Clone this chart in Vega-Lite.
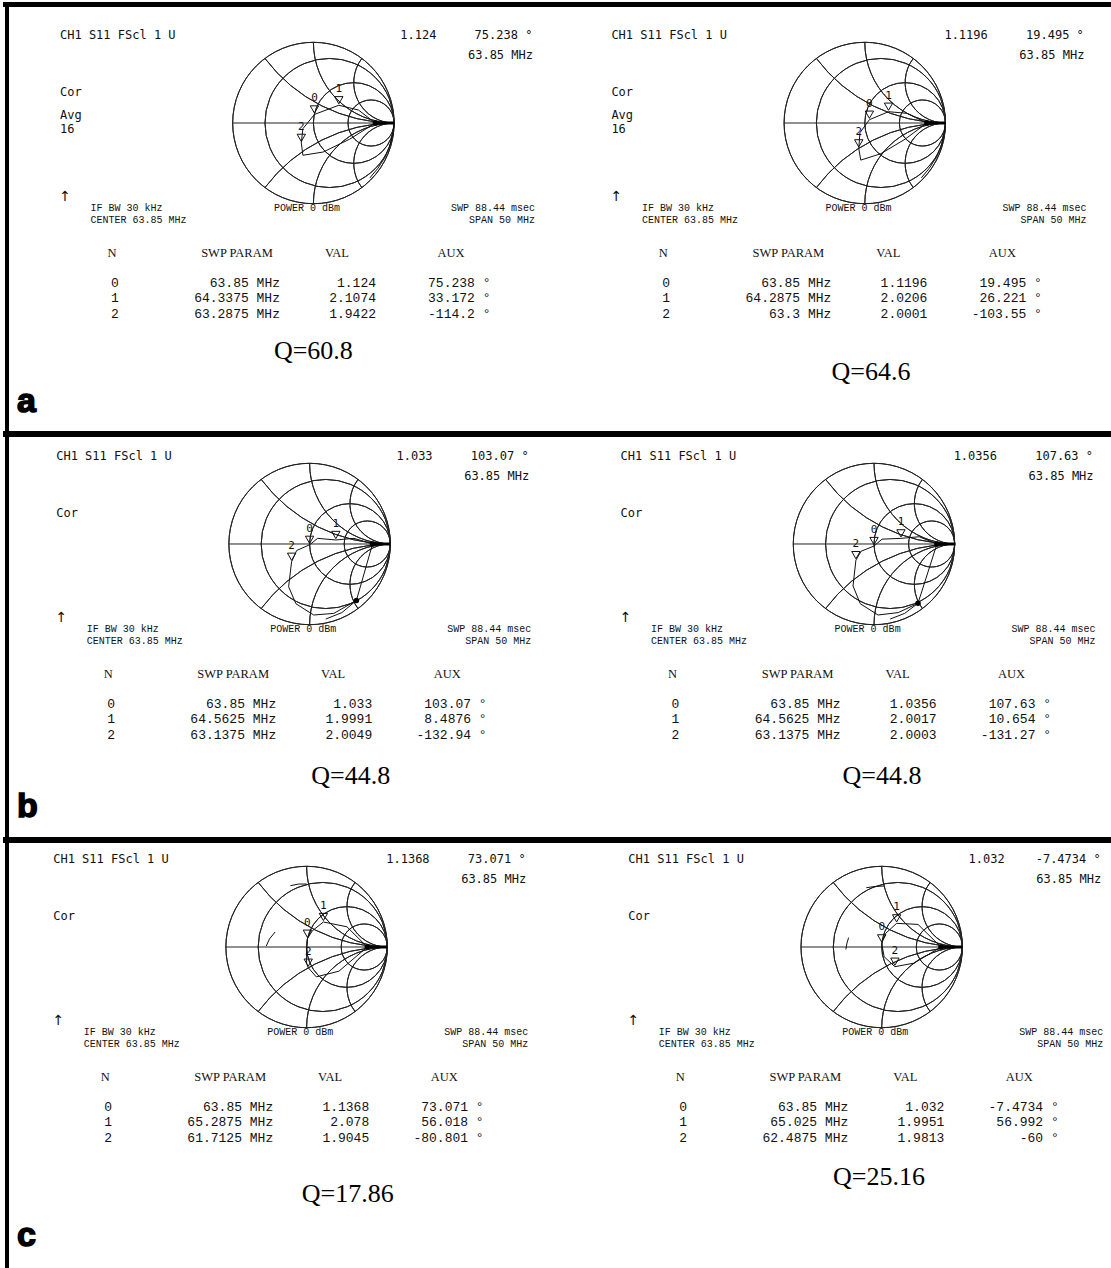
{
"$schema": "https://vega.github.io/schema/vega-lite/v6.json",
"background": "white",
"padding": 0,
"spacing": 0,
"bounds": "flush",
"align": "each",
"columns": 2,
"config": {"view": {"stroke": null}, "axis": {"disable": true}, "legend": {"disable": true}, "concat": {"spacing": 0}},
"datasets": {
"grid": [
{"cx":0,"cy":0,"rad":1,"t0":0,"t1":360},
{"cx":0.2,"cy":0,"rad":0.8,"t0":0,"t1":360},
{"cx":0.5,"cy":0,"rad":0.5,"t0":0,"t1":360},
{"cx":0.7143,"cy":0,"rad":0.2857,"t0":0,"t1":360},
{"cx":1,"cy":2,"rad":2,"t0":180,"t1":233.13},
{"cx":1,"cy":1,"rad":1,"t0":180,"t1":270},
{"cx":1,"cy":0.5,"rad":0.5,"t0":180,"t1":306.87},
{"cx":1,"cy":-2,"rad":2,"t0":306.87,"t1":360},
{"cx":1,"cy":-1,"rad":1,"t0":270,"t1":360},
{"cx":1,"cy":-0.5,"rad":0.5,"t0":233.13,"t1":360}
],
"scr": [
{"s":"*","g":"L","gx":-3.14,"gy":1.043,"t":"CH1 S11  FScl  1 U"},
{"s":"*","g":"L","gx":-3.14,"gy":0.337,"t":"Cor"},
{"s":"*","g":"A","gx":-3.15,"gy":-0.964,"t":"↑"},
{"s":"aL","g":"L","gx":-3.14,"gy":0.055,"t":"Avg"},
{"s":"aL","g":"L","gx":-3.14,"gy":-0.13,"t":"16"},
{"s":"aR","g":"L","gx":-3.14,"gy":0.055,"t":"Avg"},
{"s":"aR","g":"L","gx":-3.14,"gy":-0.13,"t":"16"},
{"s":"*","g":"R","gx":2.721,"gy":0.796,"t":"63.85 MHz"},
{"s":"aL","g":"R","gx":1.524,"gy":1.043,"t":"1.124"},
{"s":"aL","g":"R","gx":2.714,"gy":1.043,"t":"75.238 °"},
{"s":"aR","g":"R","gx":1.524,"gy":1.043,"t":"1.1196"},
{"s":"aR","g":"R","gx":2.714,"gy":1.043,"t":"19.495 °"},
{"s":"bL","g":"R","gx":1.524,"gy":1.043,"t":"1.033"},
{"s":"bL","g":"R","gx":2.714,"gy":1.043,"t":"103.07 °"},
{"s":"bR","g":"R","gx":1.524,"gy":1.043,"t":"1.0356"},
{"s":"bR","g":"R","gx":2.714,"gy":1.043,"t":"107.63 °"},
{"s":"cL","g":"R","gx":1.524,"gy":1.043,"t":"1.1368"},
{"s":"cL","g":"R","gx":2.714,"gy":1.043,"t":"73.071 °"},
{"s":"cR","g":"R","gx":1.524,"gy":1.043,"t":"1.032"},
{"s":"cR","g":"R","gx":2.714,"gy":1.043,"t":"-7.4734 °"},
{"s":"*","g":"BL","gx":-2.762,"gy":-1.09,"t":"IF BW 30 kHz"},
{"s":"*","g":"BL","gx":-2.762,"gy":-1.239,"t":"CENTER  63.85 MHz"},
{"s":"*","g":"BL","gx":-0.488,"gy":-1.09,"t":"POWER  0 dBm"},
{"s":"*","g":"BR","gx":2.746,"gy":-1.09,"t":"SWP  88.44 msec"},
{"s":"*","g":"BR","gx":2.746,"gy":-1.239,"t":"SPAN  50 MHz"}
],
"hdr": [
{"gx":-2.496,"gy":-1.658,"t":"N"},
{"gx":-0.947,"gy":-1.658,"t":"SWP PARAM"},
{"gx":0.292,"gy":-1.658,"t":"VAL"},
{"gx":1.705,"gy":-1.658,"t":"AUX"}
],
"tab": [
{"s":"aL","n":0,"gy":-2.03,"f":"63.85 MHz","v":"1.124","a":"75.238 °"},
{"s":"aL","n":1,"gy":-2.216,"f":"64.3375 MHz","v":"2.1074","a":"33.172 °"},
{"s":"aL","n":2,"gy":-2.414,"f":"63.2875 MHz","v":"1.9422","a":"-114.2 °"},
{"s":"aR","n":0,"gy":-2.03,"f":"63.85 MHz","v":"1.1196","a":"19.495 °"},
{"s":"aR","n":1,"gy":-2.216,"f":"64.2875 MHz","v":"2.0206","a":"26.221 °"},
{"s":"aR","n":2,"gy":-2.414,"f":"63.3 MHz","v":"2.0001","a":"-103.55 °"},
{"s":"bL","n":0,"gy":-2.03,"f":"63.85 MHz","v":"1.033","a":"103.07 °"},
{"s":"bL","n":1,"gy":-2.216,"f":"64.5625 MHz","v":"1.9991","a":"8.4876 °"},
{"s":"bL","n":2,"gy":-2.414,"f":"63.1375 MHz","v":"2.0049","a":"-132.94 °"},
{"s":"bR","n":0,"gy":-2.03,"f":"63.85 MHz","v":"1.0356","a":"107.63 °"},
{"s":"bR","n":1,"gy":-2.216,"f":"64.5625 MHz","v":"2.0017","a":"10.654 °"},
{"s":"bR","n":2,"gy":-2.414,"f":"63.1375 MHz","v":"2.0003","a":"-131.27 °"},
{"s":"cL","n":0,"gy":-2.03,"f":"63.85 MHz","v":"1.1368","a":"73.071 °"},
{"s":"cL","n":1,"gy":-2.216,"f":"65.2875 MHz","v":"2.078","a":"56.018 °"},
{"s":"cL","n":2,"gy":-2.414,"f":"61.7125 MHz","v":"1.9045","a":"-80.801 °"},
{"s":"cR","n":0,"gy":-2.03,"f":"63.85 MHz","v":"1.032","a":"-7.4734 °"},
{"s":"cR","n":1,"gy":-2.216,"f":"65.025 MHz","v":"1.9951","a":"56.992 °"},
{"s":"cR","n":2,"gy":-2.414,"f":"62.4875 MHz","v":"1.9813","a":"-60 °"}
],
"trace": [
{"s":"aL","g":"t","i":0,"gx":0.70,"gy":-0.68},{"s":"aL","g":"t","i":1,"gx":0.80,"gy":-0.56},{"s":"aL","g":"t","i":2,"gx":0.89,"gy":-0.42},{"s":"aL","g":"t","i":3,"gx":0.95,"gy":-0.27},{"s":"aL","g":"t","i":4,"gx":0.985,"gy":-0.12},{"s":"aL","g":"t","i":5,"gx":1.0,"gy":0},
{"s":"aL","g":"l","i":0,"gx":0.767,"gy":0},{"s":"aL","g":"l","i":1,"gx":0.56,"gy":0.16},{"s":"aL","g":"l","i":2,"gx":0.315,"gy":0.22},{"s":"aL","g":"l","i":3,"gx":0.013,"gy":0.106},{"s":"aL","g":"l","i":4,"gx":-0.13,"gy":-0.07},{"s":"aL","g":"l","i":5,"gx":-0.15,"gy":-0.246},{"s":"aL","g":"l","i":6,"gx":-0.13,"gy":-0.40},{"s":"aL","g":"l","i":7,"gx":0.12,"gy":-0.36},{"s":"aL","g":"l","i":8,"gx":0.45,"gy":-0.2},{"s":"aL","g":"l","i":9,"gx":0.767,"gy":0},
{"s":"aR","g":"t","i":0,"gx":0.70,"gy":-0.68},{"s":"aR","g":"t","i":1,"gx":0.80,"gy":-0.56},{"s":"aR","g":"t","i":2,"gx":0.89,"gy":-0.42},{"s":"aR","g":"t","i":3,"gx":0.95,"gy":-0.27},{"s":"aR","g":"t","i":4,"gx":0.985,"gy":-0.12},{"s":"aR","g":"t","i":5,"gx":1.0,"gy":0},
{"s":"aR","g":"l","i":0,"gx":0.769,"gy":0},{"s":"aR","g":"l","i":1,"gx":0.52,"gy":0.12},{"s":"aR","g":"l","i":2,"gx":0.294,"gy":0.14},{"s":"aR","g":"l","i":3,"gx":0.057,"gy":0.041},{"s":"aR","g":"l","i":4,"gx":-0.06,"gy":-0.12},{"s":"aR","g":"l","i":5,"gx":-0.075,"gy":-0.314},{"s":"aR","g":"l","i":6,"gx":-0.05,"gy":-0.46},{"s":"aR","g":"l","i":7,"gx":0.2,"gy":-0.38},{"s":"aR","g":"l","i":8,"gx":0.5,"gy":-0.2},{"s":"aR","g":"l","i":9,"gx":0.769,"gy":0},
{"s":"bL","g":"l","i":0,"gx":0.78,"gy":0},{"s":"bL","g":"l","i":1,"gx":0.55,"gy":0.07},{"s":"bL","g":"l","i":2,"gx":0.325,"gy":0.05},{"s":"bL","g":"l","i":3,"gx":0.1,"gy":0.07},{"s":"bL","g":"l","i":4,"gx":0.0,"gy":-0.01},{"s":"bL","g":"l","i":5,"gx":-0.16,"gy":-0.08},{"s":"bL","g":"l","i":6,"gx":-0.223,"gy":-0.22},{"s":"bL","g":"l","i":7,"gx":-0.26,"gy":-0.53},{"s":"bL","g":"l","i":8,"gx":-0.17,"gy":-0.74},{"s":"bL","g":"l","i":9,"gx":0.05,"gy":-0.88},{"s":"bL","g":"l","i":10,"gx":0.3,"gy":-0.86},{"s":"bL","g":"l","i":11,"gx":0.58,"gy":-0.70},{"s":"bL","g":"l","i":12,"gx":0.78,"gy":0},
{"s":"bL","g":"t","i":0,"gx":0.2,"gy":-0.93},{"s":"bL","g":"t","i":1,"gx":0.4,"gy":-0.85},{"s":"bL","g":"t","i":2,"gx":0.58,"gy":-0.70},
{"s":"bR","g":"l","i":0,"gx":0.78,"gy":0},{"s":"bR","g":"l","i":1,"gx":0.56,"gy":0.09},{"s":"bR","g":"l","i":2,"gx":0.334,"gy":0.07},{"s":"bR","g":"l","i":3,"gx":0.1,"gy":0.06},{"s":"bR","g":"l","i":4,"gx":0.0,"gy":-0.025},{"s":"bR","g":"l","i":5,"gx":-0.16,"gy":-0.09},{"s":"bR","g":"l","i":6,"gx":-0.224,"gy":-0.2},{"s":"bR","g":"l","i":7,"gx":-0.26,"gy":-0.52},{"s":"bR","g":"l","i":8,"gx":-0.17,"gy":-0.74},{"s":"bR","g":"l","i":9,"gx":0.05,"gy":-0.88},{"s":"bR","g":"l","i":10,"gx":0.3,"gy":-0.85},{"s":"bR","g":"l","i":11,"gx":0.545,"gy":-0.735},{"s":"bR","g":"l","i":12,"gx":0.78,"gy":0},
{"s":"bR","g":"t","i":0,"gx":0.2,"gy":-0.93},{"s":"bR","g":"t","i":1,"gx":0.38,"gy":-0.86},{"s":"bR","g":"t","i":2,"gx":0.545,"gy":-0.735},
{"s":"cL","g":"l","i":0,"gx":0.752,"gy":0},{"s":"cL","g":"l","i":1,"gx":0.5,"gy":0.25},{"s":"cL","g":"l","i":2,"gx":0.208,"gy":0.31},{"s":"cL","g":"l","i":3,"gx":0.07,"gy":0.2},{"s":"cL","g":"l","i":4,"gx":0.01,"gy":0.103},{"s":"cL","g":"l","i":5,"gx":0.0,"gy":-0.05},{"s":"cL","g":"l","i":6,"gx":0.0,"gy":-0.2},{"s":"cL","g":"l","i":7,"gx":0.02,"gy":-0.256},{"s":"cL","g":"l","i":8,"gx":0.12,"gy":-0.37},{"s":"cL","g":"l","i":9,"gx":0.4,"gy":-0.3},{"s":"cL","g":"l","i":10,"gx":0.752,"gy":0},
{"s":"cL","g":"a","i":0,"gx":-0.39,"gy":0.186},{"s":"cL","g":"a","i":1,"gx":-0.46,"gy":0.1},{"s":"cL","g":"a","i":2,"gx":-0.5,"gy":0.012},
{"s":"cL","g":"b","i":0,"gx":-0.2,"gy":0.76},{"s":"cL","g":"b","i":1,"gx":-0.1,"gy":0.78},{"s":"cL","g":"b","i":2,"gx":0.0,"gy":0.78},
{"s":"cR","g":"l","i":0,"gx":0.734,"gy":0},{"s":"cR","g":"l","i":1,"gx":0.45,"gy":0.28},{"s":"cR","g":"l","i":2,"gx":0.185,"gy":0.293},{"s":"cR","g":"l","i":3,"gx":0.05,"gy":0.17},{"s":"cR","g":"l","i":4,"gx":0.0,"gy":0.045},{"s":"cR","g":"l","i":5,"gx":0.03,"gy":-0.12},{"s":"cR","g":"l","i":6,"gx":0.163,"gy":-0.244},{"s":"cR","g":"l","i":7,"gx":0.4,"gy":-0.2},{"s":"cR","g":"l","i":8,"gx":0.734,"gy":0},
{"s":"cR","g":"a","i":0,"gx":-0.41,"gy":0.116},{"s":"cR","g":"a","i":1,"gx":-0.43,"gy":0.05},{"s":"cR","g":"a","i":2,"gx":-0.444,"gy":-0.03},
{"s":"cR","g":"b","i":0,"gx":-0.19,"gy":0.735},{"s":"cR","g":"b","i":1,"gx":-0.08,"gy":0.75},{"s":"cR","g":"b","i":2,"gx":0.03,"gy":0.756}
],
"bold": [
{"s":"aL","i":0,"gx":0.767,"gy":0},{"s":"aL","i":1,"gx":1,"gy":0},
{"s":"aR","i":0,"gx":0.769,"gy":0},{"s":"aR","i":1,"gx":1,"gy":0},
{"s":"bL","i":0,"gx":0.78,"gy":0},{"s":"bL","i":1,"gx":1,"gy":0},
{"s":"bR","i":0,"gx":0.78,"gy":0},{"s":"bR","i":1,"gx":1,"gy":0},
{"s":"cL","i":0,"gx":0.752,"gy":0},{"s":"cL","i":1,"gx":1,"gy":0},
{"s":"cR","i":0,"gx":0.734,"gy":0},{"s":"cR","i":1,"gx":1,"gy":0}
],
"dots": [
{"s":"aL","gx":0.767,"gy":0},{"s":"aR","gx":0.769,"gy":0},
{"s":"bL","gx":0.78,"gy":0},{"s":"bL","gx":0.58,"gy":-0.70},
{"s":"bR","gx":0.78,"gy":0},{"s":"bR","gx":0.545,"gy":-0.735},
{"s":"cL","gx":0.752,"gy":0},{"s":"cR","gx":0.734,"gy":0}
],
"mk": [
{"s":"aL","n":"0","gx":0.013,"gy":0.106},{"s":"aL","n":"1","gx":0.315,"gy":0.22},{"s":"aL","n":"2","gx":-0.15,"gy":-0.246},
{"s":"aR","n":"0","gx":0.057,"gy":0.041},{"s":"aR","n":"1","gx":0.294,"gy":0.14},{"s":"aR","n":"2","gx":-0.075,"gy":-0.314},
{"s":"bL","n":"0","gx":0.0,"gy":-0.01},{"s":"bL","n":"1","gx":0.325,"gy":0.05},{"s":"bL","n":"2","gx":-0.223,"gy":-0.22},
{"s":"bR","n":"0","gx":0.0,"gy":-0.025},{"s":"bR","n":"1","gx":0.334,"gy":0.07},{"s":"bR","n":"2","gx":-0.224,"gy":-0.2},
{"s":"cL","n":"0","gx":0.01,"gy":0.103},{"s":"cL","n":"1","gx":0.208,"gy":0.31},{"s":"cL","n":"2","gx":0.02,"gy":-0.256},
{"s":"cR","n":"0","gx":0.0,"gy":0.045},{"s":"cR","n":"1","gx":0.185,"gy":0.293},{"s":"cR","n":"2","gx":0.163,"gy":-0.244}
],
"fig": [
{"s":"aL","k":"q","gx":0.0,"gy":-2.93,"t":"Q=60.8"},
{"s":"aR","k":"q","gx":0.077,"gy":-3.185,"t":"Q=64.6"},
{"s":"bL","k":"q","gx":0.51,"gy":-2.974,"t":"Q=44.8"},
{"s":"bR","k":"q","gx":0.099,"gy":-2.974,"t":"Q=44.8"},
{"s":"cL","k":"q","gx":0.51,"gy":-3.16,"t":"Q=17.86"},
{"s":"cR","k":"q","gx":-0.033,"gy":-2.95,"t":"Q=25.16"},
{"s":"aL","k":"p","gx":-3.673,"gy":-3.581,"t":"a"},
{"s":"bL","k":"p","gx":-3.626,"gy":-3.383,"t":"b"},
{"s":"cL","k":"p","gx":-3.589,"gy":-3.705,"t":"c"}
]
},
"concat": [
{"width": 555, "height": 429, "layer": [
{"data": {"name": "grid"}, "mark": {"type": "arc", "filled": false, "color": "#222", "strokeWidth": 1},
 "encoding": {"x": {"field": "cx", "type": "quantitative", "axis": null, "scale": {"domain": [-3.8463, 3.031], "nice": false, "zero": false}},
  "y": {"field": "cy", "type": "quantitative", "axis": null, "scale": {"domain": [-3.8166, 1.4994], "nice": false, "zero": false}},
  "radius": {"field": "rad", "type": "quantitative", "scale": {"type": "linear", "domain": [0, 1], "range": [0, 80.7]}},
  "radius2": {"field": "rad"},
  "theta": {"field": "t0", "type": "quantitative", "stack": null, "scale": {"domain": [0, 360], "range": [0, 6.283185307]}},
  "theta2": {"field": "t1"}}},
{"data": {"values": [{}]}, "mark": {"type": "rule", "color": "#222"}, "encoding": {"x": {"datum": -1}, "x2": {"datum": 1}, "y": {"datum": 0}}},
{"data": {"values": [{}]}, "mark": {"type": "rule", "color": "#000", "strokeWidth": 5}, "encoding": {"y": {"datum": 1.4684}}},
{"data": {"values": [{}]}, "mark": {"type": "rule", "color": "#000", "strokeWidth": 4}, "encoding": {"x": {"datum": -3.7967}}},
{"data": {"name": "trace"}, "transform": [{"filter": "datum.s == 'aL'"}], "mark": {"type": "line", "color": "#111", "strokeWidth": 1}, "encoding": {"x": {"field": "gx", "type": "quantitative"}, "y": {"field": "gy", "type": "quantitative"}, "detail": {"field": "g"}, "order": {"field": "i", "type": "quantitative"}}},
{"data": {"name": "bold"}, "transform": [{"filter": "datum.s == 'aL'"}], "mark": {"type": "line", "color": "#000", "strokeWidth": 3}, "encoding": {"x": {"field": "gx", "type": "quantitative"}, "y": {"field": "gy", "type": "quantitative"}, "order": {"field": "i", "type": "quantitative"}}},
{"data": {"name": "dots"}, "transform": [{"filter": "datum.s == 'aL'"}], "mark": {"type": "point", "filled": true, "color": "#000", "size": 30, "opacity": 1}, "encoding": {"x": {"field": "gx", "type": "quantitative"}, "y": {"field": "gy", "type": "quantitative"}}},
{"data": {"name": "mk"}, "transform": [{"filter": "datum.s == 'aL'"}], "mark": {"type": "point", "shape": "triangle-down", "filled": false, "color": "#111", "size": 70, "yOffset": -5, "strokeWidth": 1, "opacity": 1}, "encoding": {"x": {"field": "gx", "type": "quantitative"}, "y": {"field": "gy", "type": "quantitative"}}},
{"data": {"name": "mk"}, "transform": [{"filter": "datum.s == 'aL'"}], "mark": {"type": "text", "font": "DejaVu Sans Mono", "fontSize": 11, "dy": -16, "color": "#111"}, "encoding": {"x": {"field": "gx", "type": "quantitative"}, "y": {"field": "gy", "type": "quantitative"}, "text": {"field": "n"}}},
{"data": {"name": "scr"}, "transform": [{"filter": "(datum.s == '*' || datum.s == 'aL') && datum.g == 'L'"}], "mark": {"type": "text", "font": "DejaVu Sans Mono", "fontSize": 12, "align": "left", "baseline": "alphabetic", "color": "#111"}, "encoding": {"x": {"field": "gx", "type": "quantitative"}, "y": {"field": "gy", "type": "quantitative"}, "text": {"field": "t"}}},
{"data": {"name": "scr"}, "transform": [{"filter": "datum.g == 'A'"}], "mark": {"type": "text", "font": "DejaVu Sans", "fontSize": 14, "align": "left", "baseline": "alphabetic", "color": "#111"}, "encoding": {"x": {"field": "gx", "type": "quantitative"}, "y": {"field": "gy", "type": "quantitative"}, "text": {"field": "t"}}},
{"data": {"name": "scr"}, "transform": [{"filter": "(datum.s == '*' || datum.s == 'aL') && datum.g == 'R'"}], "mark": {"type": "text", "font": "DejaVu Sans Mono", "fontSize": 12, "align": "right", "baseline": "alphabetic", "color": "#111"}, "encoding": {"x": {"field": "gx", "type": "quantitative"}, "y": {"field": "gy", "type": "quantitative"}, "text": {"field": "t"}}},
{"data": {"name": "scr"}, "transform": [{"filter": "datum.g == 'BL'"}], "mark": {"type": "text", "font": "Liberation Mono", "fontSize": 10, "align": "left", "baseline": "alphabetic", "color": "#111"}, "encoding": {"x": {"field": "gx", "type": "quantitative"}, "y": {"field": "gy", "type": "quantitative"}, "text": {"field": "t"}}},
{"data": {"name": "scr"}, "transform": [{"filter": "datum.g == 'BR'"}], "mark": {"type": "text", "font": "Liberation Mono", "fontSize": 10, "align": "right", "baseline": "alphabetic", "color": "#111"}, "encoding": {"x": {"field": "gx", "type": "quantitative"}, "y": {"field": "gy", "type": "quantitative"}, "text": {"field": "t"}}},
{"data": {"name": "hdr"}, "mark": {"type": "text", "font": "Liberation Serif", "fontSize": 12.5, "align": "center", "baseline": "alphabetic", "color": "#111"}, "encoding": {"x": {"field": "gx", "type": "quantitative"}, "y": {"field": "gy", "type": "quantitative"}, "text": {"field": "t"}}},
{"data": {"name": "tab"}, "transform": [{"filter": "datum.s == 'aL'"}], "mark": {"type": "text", "font": "Liberation Mono", "fontSize": 13, "align": "center", "baseline": "alphabetic", "color": "#111"}, "encoding": {"x": {"datum": -2.46}, "y": {"field": "gy", "type": "quantitative"}, "text": {"field": "n"}}},
{"data": {"name": "tab"}, "transform": [{"filter": "datum.s == 'aL'"}], "mark": {"type": "text", "font": "Liberation Mono", "fontSize": 13, "align": "right", "baseline": "alphabetic", "color": "#111"}, "encoding": {"x": {"datum": -0.414}, "y": {"field": "gy", "type": "quantitative"}, "text": {"field": "f"}}},
{"data": {"name": "tab"}, "transform": [{"filter": "datum.s == 'aL'"}], "mark": {"type": "text", "font": "Liberation Mono", "fontSize": 13, "align": "right", "baseline": "alphabetic", "color": "#111"}, "encoding": {"x": {"datum": 0.776}, "y": {"field": "gy", "type": "quantitative"}, "text": {"field": "v"}}},
{"data": {"name": "tab"}, "transform": [{"filter": "datum.s == 'aL'"}], "mark": {"type": "text", "font": "Liberation Mono", "fontSize": 13, "align": "right", "baseline": "alphabetic", "color": "#111"}, "encoding": {"x": {"datum": 2.194}, "y": {"field": "gy", "type": "quantitative"}, "text": {"field": "a"}}},
{"data": {"name": "fig"}, "transform": [{"filter": "datum.s == 'aL' && datum.k == 'q'"}], "mark": {"type": "text", "font": "Liberation Serif", "fontSize": 26, "align": "center", "baseline": "alphabetic", "color": "#000"}, "encoding": {"x": {"field": "gx", "type": "quantitative"}, "y": {"field": "gy", "type": "quantitative"}, "text": {"field": "t"}}},
{"data": {"name": "fig"}, "transform": [{"filter": "datum.s == 'aL' && datum.k == 'p'"}], "mark": {"type": "text", "font": "Liberation Sans", "fontWeight": "bold", "fontSize": 34, "align": "left", "baseline": "alphabetic", "color": "#000", "stroke": "#000", "strokeWidth": 1.5}, "encoding": {"x": {"field": "gx", "type": "quantitative"}, "y": {"field": "gy", "type": "quantitative"}, "text": {"field": "t"}}}
]},
{"width": 556, "height": 429, "layer": [
{"data": {"name": "grid"}, "mark": {"type": "arc", "filled": false, "color": "#222", "strokeWidth": 1},
 "encoding": {"x": {"field": "cx", "type": "quantitative", "axis": null, "scale": {"domain": [-3.8017, 3.088], "nice": false, "zero": false}},
  "y": {"field": "cy", "type": "quantitative", "axis": null, "scale": {"domain": [-3.8166, 1.4994], "nice": false, "zero": false}},
  "radius": {"field": "rad", "type": "quantitative", "scale": {"type": "linear", "domain": [0, 1], "range": [0, 80.7]}},
  "radius2": {"field": "rad"},
  "theta": {"field": "t0", "type": "quantitative", "stack": null, "scale": {"domain": [0, 360], "range": [0, 6.283185307]}},
  "theta2": {"field": "t1"}}},
{"data": {"values": [{}]}, "mark": {"type": "rule", "color": "#222"}, "encoding": {"x": {"datum": -1}, "x2": {"datum": 1}, "y": {"datum": 0}}},
{"data": {"values": [{}]}, "mark": {"type": "rule", "color": "#000", "strokeWidth": 5}, "encoding": {"y": {"datum": 1.4684}}},
{"data": {"name": "trace"}, "transform": [{"filter": "datum.s == 'aR'"}], "mark": {"type": "line", "color": "#111", "strokeWidth": 1}, "encoding": {"x": {"field": "gx", "type": "quantitative"}, "y": {"field": "gy", "type": "quantitative"}, "detail": {"field": "g"}, "order": {"field": "i", "type": "quantitative"}}},
{"data": {"name": "bold"}, "transform": [{"filter": "datum.s == 'aR'"}], "mark": {"type": "line", "color": "#000", "strokeWidth": 3}, "encoding": {"x": {"field": "gx", "type": "quantitative"}, "y": {"field": "gy", "type": "quantitative"}, "order": {"field": "i", "type": "quantitative"}}},
{"data": {"name": "dots"}, "transform": [{"filter": "datum.s == 'aR'"}], "mark": {"type": "point", "filled": true, "color": "#000", "size": 30, "opacity": 1}, "encoding": {"x": {"field": "gx", "type": "quantitative"}, "y": {"field": "gy", "type": "quantitative"}}},
{"data": {"name": "mk"}, "transform": [{"filter": "datum.s == 'aR'"}], "mark": {"type": "point", "shape": "triangle-down", "filled": false, "color": "#111", "size": 70, "yOffset": -5, "strokeWidth": 1, "opacity": 1}, "encoding": {"x": {"field": "gx", "type": "quantitative"}, "y": {"field": "gy", "type": "quantitative"}}},
{"data": {"name": "mk"}, "transform": [{"filter": "datum.s == 'aR'"}], "mark": {"type": "text", "font": "DejaVu Sans Mono", "fontSize": 11, "dy": -16, "color": "#111"}, "encoding": {"x": {"field": "gx", "type": "quantitative"}, "y": {"field": "gy", "type": "quantitative"}, "text": {"field": "n"}}},
{"data": {"name": "scr"}, "transform": [{"filter": "(datum.s == '*' || datum.s == 'aR') && datum.g == 'L'"}], "mark": {"type": "text", "font": "DejaVu Sans Mono", "fontSize": 12, "align": "left", "baseline": "alphabetic", "color": "#111"}, "encoding": {"x": {"field": "gx", "type": "quantitative"}, "y": {"field": "gy", "type": "quantitative"}, "text": {"field": "t"}}},
{"data": {"name": "scr"}, "transform": [{"filter": "datum.g == 'A'"}], "mark": {"type": "text", "font": "DejaVu Sans", "fontSize": 14, "align": "left", "baseline": "alphabetic", "color": "#111"}, "encoding": {"x": {"field": "gx", "type": "quantitative"}, "y": {"field": "gy", "type": "quantitative"}, "text": {"field": "t"}}},
{"data": {"name": "scr"}, "transform": [{"filter": "(datum.s == '*' || datum.s == 'aR') && datum.g == 'R'"}], "mark": {"type": "text", "font": "DejaVu Sans Mono", "fontSize": 12, "align": "right", "baseline": "alphabetic", "color": "#111"}, "encoding": {"x": {"field": "gx", "type": "quantitative"}, "y": {"field": "gy", "type": "quantitative"}, "text": {"field": "t"}}},
{"data": {"name": "scr"}, "transform": [{"filter": "datum.g == 'BL'"}], "mark": {"type": "text", "font": "Liberation Mono", "fontSize": 10, "align": "left", "baseline": "alphabetic", "color": "#111"}, "encoding": {"x": {"field": "gx", "type": "quantitative"}, "y": {"field": "gy", "type": "quantitative"}, "text": {"field": "t"}}},
{"data": {"name": "scr"}, "transform": [{"filter": "datum.g == 'BR'"}], "mark": {"type": "text", "font": "Liberation Mono", "fontSize": 10, "align": "right", "baseline": "alphabetic", "color": "#111"}, "encoding": {"x": {"field": "gx", "type": "quantitative"}, "y": {"field": "gy", "type": "quantitative"}, "text": {"field": "t"}}},
{"data": {"name": "hdr"}, "mark": {"type": "text", "font": "Liberation Serif", "fontSize": 12.5, "align": "center", "baseline": "alphabetic", "color": "#111"}, "encoding": {"x": {"field": "gx", "type": "quantitative"}, "y": {"field": "gy", "type": "quantitative"}, "text": {"field": "t"}}},
{"data": {"name": "tab"}, "transform": [{"filter": "datum.s == 'aR'"}], "mark": {"type": "text", "font": "Liberation Mono", "fontSize": 13, "align": "center", "baseline": "alphabetic", "color": "#111"}, "encoding": {"x": {"datum": -2.46}, "y": {"field": "gy", "type": "quantitative"}, "text": {"field": "n"}}},
{"data": {"name": "tab"}, "transform": [{"filter": "datum.s == 'aR'"}], "mark": {"type": "text", "font": "Liberation Mono", "fontSize": 13, "align": "right", "baseline": "alphabetic", "color": "#111"}, "encoding": {"x": {"datum": -0.414}, "y": {"field": "gy", "type": "quantitative"}, "text": {"field": "f"}}},
{"data": {"name": "tab"}, "transform": [{"filter": "datum.s == 'aR'"}], "mark": {"type": "text", "font": "Liberation Mono", "fontSize": 13, "align": "right", "baseline": "alphabetic", "color": "#111"}, "encoding": {"x": {"datum": 0.776}, "y": {"field": "gy", "type": "quantitative"}, "text": {"field": "v"}}},
{"data": {"name": "tab"}, "transform": [{"filter": "datum.s == 'aR'"}], "mark": {"type": "text", "font": "Liberation Mono", "fontSize": 13, "align": "right", "baseline": "alphabetic", "color": "#111"}, "encoding": {"x": {"datum": 2.194}, "y": {"field": "gy", "type": "quantitative"}, "text": {"field": "a"}}},
{"data": {"name": "fig"}, "transform": [{"filter": "datum.s == 'aR' && datum.k == 'q'"}], "mark": {"type": "text", "font": "Liberation Serif", "fontSize": 26, "align": "center", "baseline": "alphabetic", "color": "#000"}, "encoding": {"x": {"field": "gx", "type": "quantitative"}, "y": {"field": "gy", "type": "quantitative"}, "text": {"field": "t"}}}
]},
{"width": 555, "height": 406, "layer": [
{"data": {"name": "grid"}, "mark": {"type": "arc", "filled": false, "color": "#222", "strokeWidth": 1},
 "encoding": {"x": {"field": "cx", "type": "quantitative", "axis": null, "scale": {"domain": [-3.7993, 3.0781], "nice": false, "zero": false}},
  "y": {"field": "cy", "type": "quantitative", "axis": null, "scale": {"domain": [-3.6307, 1.4002], "nice": false, "zero": false}},
  "radius": {"field": "rad", "type": "quantitative", "scale": {"type": "linear", "domain": [0, 1], "range": [0, 80.7]}},
  "radius2": {"field": "rad"},
  "theta": {"field": "t0", "type": "quantitative", "stack": null, "scale": {"domain": [0, 360], "range": [0, 6.283185307]}},
  "theta2": {"field": "t1"}}},
{"data": {"values": [{}]}, "mark": {"type": "rule", "color": "#222"}, "encoding": {"x": {"datum": -1}, "x2": {"datum": 1}, "y": {"datum": 0}}},
{"data": {"values": [{}]}, "mark": {"type": "rule", "color": "#000", "strokeWidth": 6}, "encoding": {"y": {"datum": 1.363}}},
{"data": {"values": [{}]}, "mark": {"type": "rule", "color": "#000", "strokeWidth": 4}, "encoding": {"x": {"datum": -3.7497}}},
{"data": {"name": "trace"}, "transform": [{"filter": "datum.s == 'bL'"}], "mark": {"type": "line", "color": "#111", "strokeWidth": 1}, "encoding": {"x": {"field": "gx", "type": "quantitative"}, "y": {"field": "gy", "type": "quantitative"}, "detail": {"field": "g"}, "order": {"field": "i", "type": "quantitative"}}},
{"data": {"name": "bold"}, "transform": [{"filter": "datum.s == 'bL'"}], "mark": {"type": "line", "color": "#000", "strokeWidth": 3}, "encoding": {"x": {"field": "gx", "type": "quantitative"}, "y": {"field": "gy", "type": "quantitative"}, "order": {"field": "i", "type": "quantitative"}}},
{"data": {"name": "dots"}, "transform": [{"filter": "datum.s == 'bL'"}], "mark": {"type": "point", "filled": true, "color": "#000", "size": 30, "opacity": 1}, "encoding": {"x": {"field": "gx", "type": "quantitative"}, "y": {"field": "gy", "type": "quantitative"}}},
{"data": {"name": "mk"}, "transform": [{"filter": "datum.s == 'bL'"}], "mark": {"type": "point", "shape": "triangle-down", "filled": false, "color": "#111", "size": 70, "yOffset": -5, "strokeWidth": 1, "opacity": 1}, "encoding": {"x": {"field": "gx", "type": "quantitative"}, "y": {"field": "gy", "type": "quantitative"}}},
{"data": {"name": "mk"}, "transform": [{"filter": "datum.s == 'bL'"}], "mark": {"type": "text", "font": "DejaVu Sans Mono", "fontSize": 11, "dy": -16, "color": "#111"}, "encoding": {"x": {"field": "gx", "type": "quantitative"}, "y": {"field": "gy", "type": "quantitative"}, "text": {"field": "n"}}},
{"data": {"name": "scr"}, "transform": [{"filter": "(datum.s == '*' || datum.s == 'bL') && datum.g == 'L'"}], "mark": {"type": "text", "font": "DejaVu Sans Mono", "fontSize": 12, "align": "left", "baseline": "alphabetic", "color": "#111"}, "encoding": {"x": {"field": "gx", "type": "quantitative"}, "y": {"field": "gy", "type": "quantitative"}, "text": {"field": "t"}}},
{"data": {"name": "scr"}, "transform": [{"filter": "datum.g == 'A'"}], "mark": {"type": "text", "font": "DejaVu Sans", "fontSize": 14, "align": "left", "baseline": "alphabetic", "color": "#111"}, "encoding": {"x": {"field": "gx", "type": "quantitative"}, "y": {"field": "gy", "type": "quantitative"}, "text": {"field": "t"}}},
{"data": {"name": "scr"}, "transform": [{"filter": "(datum.s == '*' || datum.s == 'bL') && datum.g == 'R'"}], "mark": {"type": "text", "font": "DejaVu Sans Mono", "fontSize": 12, "align": "right", "baseline": "alphabetic", "color": "#111"}, "encoding": {"x": {"field": "gx", "type": "quantitative"}, "y": {"field": "gy", "type": "quantitative"}, "text": {"field": "t"}}},
{"data": {"name": "scr"}, "transform": [{"filter": "datum.g == 'BL'"}], "mark": {"type": "text", "font": "Liberation Mono", "fontSize": 10, "align": "left", "baseline": "alphabetic", "color": "#111"}, "encoding": {"x": {"field": "gx", "type": "quantitative"}, "y": {"field": "gy", "type": "quantitative"}, "text": {"field": "t"}}},
{"data": {"name": "scr"}, "transform": [{"filter": "datum.g == 'BR'"}], "mark": {"type": "text", "font": "Liberation Mono", "fontSize": 10, "align": "right", "baseline": "alphabetic", "color": "#111"}, "encoding": {"x": {"field": "gx", "type": "quantitative"}, "y": {"field": "gy", "type": "quantitative"}, "text": {"field": "t"}}},
{"data": {"name": "hdr"}, "mark": {"type": "text", "font": "Liberation Serif", "fontSize": 12.5, "align": "center", "baseline": "alphabetic", "color": "#111"}, "encoding": {"x": {"field": "gx", "type": "quantitative"}, "y": {"field": "gy", "type": "quantitative"}, "text": {"field": "t"}}},
{"data": {"name": "tab"}, "transform": [{"filter": "datum.s == 'bL'"}], "mark": {"type": "text", "font": "Liberation Mono", "fontSize": 13, "align": "center", "baseline": "alphabetic", "color": "#111"}, "encoding": {"x": {"datum": -2.46}, "y": {"field": "gy", "type": "quantitative"}, "text": {"field": "n"}}},
{"data": {"name": "tab"}, "transform": [{"filter": "datum.s == 'bL'"}], "mark": {"type": "text", "font": "Liberation Mono", "fontSize": 13, "align": "right", "baseline": "alphabetic", "color": "#111"}, "encoding": {"x": {"datum": -0.414}, "y": {"field": "gy", "type": "quantitative"}, "text": {"field": "f"}}},
{"data": {"name": "tab"}, "transform": [{"filter": "datum.s == 'bL'"}], "mark": {"type": "text", "font": "Liberation Mono", "fontSize": 13, "align": "right", "baseline": "alphabetic", "color": "#111"}, "encoding": {"x": {"datum": 0.776}, "y": {"field": "gy", "type": "quantitative"}, "text": {"field": "v"}}},
{"data": {"name": "tab"}, "transform": [{"filter": "datum.s == 'bL'"}], "mark": {"type": "text", "font": "Liberation Mono", "fontSize": 13, "align": "right", "baseline": "alphabetic", "color": "#111"}, "encoding": {"x": {"datum": 2.194}, "y": {"field": "gy", "type": "quantitative"}, "text": {"field": "a"}}},
{"data": {"name": "fig"}, "transform": [{"filter": "datum.s == 'bL' && datum.k == 'q'"}], "mark": {"type": "text", "font": "Liberation Serif", "fontSize": 26, "align": "center", "baseline": "alphabetic", "color": "#000"}, "encoding": {"x": {"field": "gx", "type": "quantitative"}, "y": {"field": "gy", "type": "quantitative"}, "text": {"field": "t"}}},
{"data": {"name": "fig"}, "transform": [{"filter": "datum.s == 'bL' && datum.k == 'p'"}], "mark": {"type": "text", "font": "Liberation Sans", "fontWeight": "bold", "fontSize": 34, "align": "left", "baseline": "alphabetic", "color": "#000", "stroke": "#000", "strokeWidth": 1.5}, "encoding": {"x": {"field": "gx", "type": "quantitative"}, "y": {"field": "gy", "type": "quantitative"}, "text": {"field": "t"}}}
]},
{"width": 556, "height": 406, "layer": [
{"data": {"name": "grid"}, "mark": {"type": "arc", "filled": false, "color": "#222", "strokeWidth": 1},
 "encoding": {"x": {"field": "cx", "type": "quantitative", "axis": null, "scale": {"domain": [-3.9157, 2.974], "nice": false, "zero": false}},
  "y": {"field": "cy", "type": "quantitative", "axis": null, "scale": {"domain": [-3.6307, 1.4002], "nice": false, "zero": false}},
  "radius": {"field": "rad", "type": "quantitative", "scale": {"type": "linear", "domain": [0, 1], "range": [0, 80.7]}},
  "radius2": {"field": "rad"},
  "theta": {"field": "t0", "type": "quantitative", "stack": null, "scale": {"domain": [0, 360], "range": [0, 6.283185307]}},
  "theta2": {"field": "t1"}}},
{"data": {"values": [{}]}, "mark": {"type": "rule", "color": "#222"}, "encoding": {"x": {"datum": -1}, "x2": {"datum": 1}, "y": {"datum": 0}}},
{"data": {"values": [{}]}, "mark": {"type": "rule", "color": "#000", "strokeWidth": 6}, "encoding": {"y": {"datum": 1.363}}},
{"data": {"name": "trace"}, "transform": [{"filter": "datum.s == 'bR'"}], "mark": {"type": "line", "color": "#111", "strokeWidth": 1}, "encoding": {"x": {"field": "gx", "type": "quantitative"}, "y": {"field": "gy", "type": "quantitative"}, "detail": {"field": "g"}, "order": {"field": "i", "type": "quantitative"}}},
{"data": {"name": "bold"}, "transform": [{"filter": "datum.s == 'bR'"}], "mark": {"type": "line", "color": "#000", "strokeWidth": 3}, "encoding": {"x": {"field": "gx", "type": "quantitative"}, "y": {"field": "gy", "type": "quantitative"}, "order": {"field": "i", "type": "quantitative"}}},
{"data": {"name": "dots"}, "transform": [{"filter": "datum.s == 'bR'"}], "mark": {"type": "point", "filled": true, "color": "#000", "size": 30, "opacity": 1}, "encoding": {"x": {"field": "gx", "type": "quantitative"}, "y": {"field": "gy", "type": "quantitative"}}},
{"data": {"name": "mk"}, "transform": [{"filter": "datum.s == 'bR'"}], "mark": {"type": "point", "shape": "triangle-down", "filled": false, "color": "#111", "size": 70, "yOffset": -5, "strokeWidth": 1, "opacity": 1}, "encoding": {"x": {"field": "gx", "type": "quantitative"}, "y": {"field": "gy", "type": "quantitative"}}},
{"data": {"name": "mk"}, "transform": [{"filter": "datum.s == 'bR'"}], "mark": {"type": "text", "font": "DejaVu Sans Mono", "fontSize": 11, "dy": -16, "color": "#111"}, "encoding": {"x": {"field": "gx", "type": "quantitative"}, "y": {"field": "gy", "type": "quantitative"}, "text": {"field": "n"}}},
{"data": {"name": "scr"}, "transform": [{"filter": "(datum.s == '*' || datum.s == 'bR') && datum.g == 'L'"}], "mark": {"type": "text", "font": "DejaVu Sans Mono", "fontSize": 12, "align": "left", "baseline": "alphabetic", "color": "#111"}, "encoding": {"x": {"field": "gx", "type": "quantitative"}, "y": {"field": "gy", "type": "quantitative"}, "text": {"field": "t"}}},
{"data": {"name": "scr"}, "transform": [{"filter": "datum.g == 'A'"}], "mark": {"type": "text", "font": "DejaVu Sans", "fontSize": 14, "align": "left", "baseline": "alphabetic", "color": "#111"}, "encoding": {"x": {"field": "gx", "type": "quantitative"}, "y": {"field": "gy", "type": "quantitative"}, "text": {"field": "t"}}},
{"data": {"name": "scr"}, "transform": [{"filter": "(datum.s == '*' || datum.s == 'bR') && datum.g == 'R'"}], "mark": {"type": "text", "font": "DejaVu Sans Mono", "fontSize": 12, "align": "right", "baseline": "alphabetic", "color": "#111"}, "encoding": {"x": {"field": "gx", "type": "quantitative"}, "y": {"field": "gy", "type": "quantitative"}, "text": {"field": "t"}}},
{"data": {"name": "scr"}, "transform": [{"filter": "datum.g == 'BL'"}], "mark": {"type": "text", "font": "Liberation Mono", "fontSize": 10, "align": "left", "baseline": "alphabetic", "color": "#111"}, "encoding": {"x": {"field": "gx", "type": "quantitative"}, "y": {"field": "gy", "type": "quantitative"}, "text": {"field": "t"}}},
{"data": {"name": "scr"}, "transform": [{"filter": "datum.g == 'BR'"}], "mark": {"type": "text", "font": "Liberation Mono", "fontSize": 10, "align": "right", "baseline": "alphabetic", "color": "#111"}, "encoding": {"x": {"field": "gx", "type": "quantitative"}, "y": {"field": "gy", "type": "quantitative"}, "text": {"field": "t"}}},
{"data": {"name": "hdr"}, "mark": {"type": "text", "font": "Liberation Serif", "fontSize": 12.5, "align": "center", "baseline": "alphabetic", "color": "#111"}, "encoding": {"x": {"field": "gx", "type": "quantitative"}, "y": {"field": "gy", "type": "quantitative"}, "text": {"field": "t"}}},
{"data": {"name": "tab"}, "transform": [{"filter": "datum.s == 'bR'"}], "mark": {"type": "text", "font": "Liberation Mono", "fontSize": 13, "align": "center", "baseline": "alphabetic", "color": "#111"}, "encoding": {"x": {"datum": -2.46}, "y": {"field": "gy", "type": "quantitative"}, "text": {"field": "n"}}},
{"data": {"name": "tab"}, "transform": [{"filter": "datum.s == 'bR'"}], "mark": {"type": "text", "font": "Liberation Mono", "fontSize": 13, "align": "right", "baseline": "alphabetic", "color": "#111"}, "encoding": {"x": {"datum": -0.414}, "y": {"field": "gy", "type": "quantitative"}, "text": {"field": "f"}}},
{"data": {"name": "tab"}, "transform": [{"filter": "datum.s == 'bR'"}], "mark": {"type": "text", "font": "Liberation Mono", "fontSize": 13, "align": "right", "baseline": "alphabetic", "color": "#111"}, "encoding": {"x": {"datum": 0.776}, "y": {"field": "gy", "type": "quantitative"}, "text": {"field": "v"}}},
{"data": {"name": "tab"}, "transform": [{"filter": "datum.s == 'bR'"}], "mark": {"type": "text", "font": "Liberation Mono", "fontSize": 13, "align": "right", "baseline": "alphabetic", "color": "#111"}, "encoding": {"x": {"datum": 2.194}, "y": {"field": "gy", "type": "quantitative"}, "text": {"field": "a"}}},
{"data": {"name": "fig"}, "transform": [{"filter": "datum.s == 'bR' && datum.k == 'q'"}], "mark": {"type": "text", "font": "Liberation Serif", "fontSize": 26, "align": "center", "baseline": "alphabetic", "color": "#000"}, "encoding": {"x": {"field": "gx", "type": "quantitative"}, "y": {"field": "gy", "type": "quantitative"}, "text": {"field": "t"}}}
]},
{"width": 555, "height": 433, "layer": [
{"data": {"name": "grid"}, "mark": {"type": "arc", "filled": false, "color": "#222", "strokeWidth": 1},
 "encoding": {"x": {"field": "cx", "type": "quantitative", "axis": null, "scale": {"domain": [-3.7621, 3.1152], "nice": false, "zero": false}},
  "y": {"field": "cy", "type": "quantitative", "axis": null, "scale": {"domain": [-4.0025, 1.3631], "nice": false, "zero": false}},
  "radius": {"field": "rad", "type": "quantitative", "scale": {"type": "linear", "domain": [0, 1], "range": [0, 80.7]}},
  "radius2": {"field": "rad"},
  "theta": {"field": "t0", "type": "quantitative", "stack": null, "scale": {"domain": [0, 360], "range": [0, 6.283185307]}},
  "theta2": {"field": "t1"}}},
{"data": {"values": [{}]}, "mark": {"type": "rule", "color": "#222"}, "encoding": {"x": {"datum": -1}, "x2": {"datum": 1}, "y": {"datum": 0}}},
{"data": {"values": [{}]}, "mark": {"type": "rule", "color": "#000", "strokeWidth": 6}, "encoding": {"y": {"datum": 1.3259}}},
{"data": {"values": [{}]}, "mark": {"type": "rule", "color": "#000", "strokeWidth": 4}, "encoding": {"x": {"datum": -3.7125}}},
{"data": {"name": "trace"}, "transform": [{"filter": "datum.s == 'cL'"}], "mark": {"type": "line", "color": "#111", "strokeWidth": 1}, "encoding": {"x": {"field": "gx", "type": "quantitative"}, "y": {"field": "gy", "type": "quantitative"}, "detail": {"field": "g"}, "order": {"field": "i", "type": "quantitative"}}},
{"data": {"name": "bold"}, "transform": [{"filter": "datum.s == 'cL'"}], "mark": {"type": "line", "color": "#000", "strokeWidth": 3}, "encoding": {"x": {"field": "gx", "type": "quantitative"}, "y": {"field": "gy", "type": "quantitative"}, "order": {"field": "i", "type": "quantitative"}}},
{"data": {"name": "dots"}, "transform": [{"filter": "datum.s == 'cL'"}], "mark": {"type": "point", "filled": true, "color": "#000", "size": 30, "opacity": 1}, "encoding": {"x": {"field": "gx", "type": "quantitative"}, "y": {"field": "gy", "type": "quantitative"}}},
{"data": {"name": "mk"}, "transform": [{"filter": "datum.s == 'cL'"}], "mark": {"type": "point", "shape": "triangle-down", "filled": false, "color": "#111", "size": 70, "yOffset": -5, "strokeWidth": 1, "opacity": 1}, "encoding": {"x": {"field": "gx", "type": "quantitative"}, "y": {"field": "gy", "type": "quantitative"}}},
{"data": {"name": "mk"}, "transform": [{"filter": "datum.s == 'cL'"}], "mark": {"type": "text", "font": "DejaVu Sans Mono", "fontSize": 11, "dy": -16, "color": "#111"}, "encoding": {"x": {"field": "gx", "type": "quantitative"}, "y": {"field": "gy", "type": "quantitative"}, "text": {"field": "n"}}},
{"data": {"name": "scr"}, "transform": [{"filter": "(datum.s == '*' || datum.s == 'cL') && datum.g == 'L'"}], "mark": {"type": "text", "font": "DejaVu Sans Mono", "fontSize": 12, "align": "left", "baseline": "alphabetic", "color": "#111"}, "encoding": {"x": {"field": "gx", "type": "quantitative"}, "y": {"field": "gy", "type": "quantitative"}, "text": {"field": "t"}}},
{"data": {"name": "scr"}, "transform": [{"filter": "datum.g == 'A'"}], "mark": {"type": "text", "font": "DejaVu Sans", "fontSize": 14, "align": "left", "baseline": "alphabetic", "color": "#111"}, "encoding": {"x": {"field": "gx", "type": "quantitative"}, "y": {"field": "gy", "type": "quantitative"}, "text": {"field": "t"}}},
{"data": {"name": "scr"}, "transform": [{"filter": "(datum.s == '*' || datum.s == 'cL') && datum.g == 'R'"}], "mark": {"type": "text", "font": "DejaVu Sans Mono", "fontSize": 12, "align": "right", "baseline": "alphabetic", "color": "#111"}, "encoding": {"x": {"field": "gx", "type": "quantitative"}, "y": {"field": "gy", "type": "quantitative"}, "text": {"field": "t"}}},
{"data": {"name": "scr"}, "transform": [{"filter": "datum.g == 'BL'"}], "mark": {"type": "text", "font": "Liberation Mono", "fontSize": 10, "align": "left", "baseline": "alphabetic", "color": "#111"}, "encoding": {"x": {"field": "gx", "type": "quantitative"}, "y": {"field": "gy", "type": "quantitative"}, "text": {"field": "t"}}},
{"data": {"name": "scr"}, "transform": [{"filter": "datum.g == 'BR'"}], "mark": {"type": "text", "font": "Liberation Mono", "fontSize": 10, "align": "right", "baseline": "alphabetic", "color": "#111"}, "encoding": {"x": {"field": "gx", "type": "quantitative"}, "y": {"field": "gy", "type": "quantitative"}, "text": {"field": "t"}}},
{"data": {"name": "hdr"}, "mark": {"type": "text", "font": "Liberation Serif", "fontSize": 12.5, "align": "center", "baseline": "alphabetic", "color": "#111"}, "encoding": {"x": {"field": "gx", "type": "quantitative"}, "y": {"field": "gy", "type": "quantitative"}, "text": {"field": "t"}}},
{"data": {"name": "tab"}, "transform": [{"filter": "datum.s == 'cL'"}], "mark": {"type": "text", "font": "Liberation Mono", "fontSize": 13, "align": "center", "baseline": "alphabetic", "color": "#111"}, "encoding": {"x": {"datum": -2.46}, "y": {"field": "gy", "type": "quantitative"}, "text": {"field": "n"}}},
{"data": {"name": "tab"}, "transform": [{"filter": "datum.s == 'cL'"}], "mark": {"type": "text", "font": "Liberation Mono", "fontSize": 13, "align": "right", "baseline": "alphabetic", "color": "#111"}, "encoding": {"x": {"datum": -0.414}, "y": {"field": "gy", "type": "quantitative"}, "text": {"field": "f"}}},
{"data": {"name": "tab"}, "transform": [{"filter": "datum.s == 'cL'"}], "mark": {"type": "text", "font": "Liberation Mono", "fontSize": 13, "align": "right", "baseline": "alphabetic", "color": "#111"}, "encoding": {"x": {"datum": 0.776}, "y": {"field": "gy", "type": "quantitative"}, "text": {"field": "v"}}},
{"data": {"name": "tab"}, "transform": [{"filter": "datum.s == 'cL'"}], "mark": {"type": "text", "font": "Liberation Mono", "fontSize": 13, "align": "right", "baseline": "alphabetic", "color": "#111"}, "encoding": {"x": {"datum": 2.194}, "y": {"field": "gy", "type": "quantitative"}, "text": {"field": "a"}}},
{"data": {"name": "fig"}, "transform": [{"filter": "datum.s == 'cL' && datum.k == 'q'"}], "mark": {"type": "text", "font": "Liberation Serif", "fontSize": 26, "align": "center", "baseline": "alphabetic", "color": "#000"}, "encoding": {"x": {"field": "gx", "type": "quantitative"}, "y": {"field": "gy", "type": "quantitative"}, "text": {"field": "t"}}},
{"data": {"name": "fig"}, "transform": [{"filter": "datum.s == 'cL' && datum.k == 'p'"}], "mark": {"type": "text", "font": "Liberation Sans", "fontWeight": "bold", "fontSize": 34, "align": "left", "baseline": "alphabetic", "color": "#000", "stroke": "#000", "strokeWidth": 1.5}, "encoding": {"x": {"field": "gx", "type": "quantitative"}, "y": {"field": "gy", "type": "quantitative"}, "text": {"field": "t"}}}
]},
{"width": 556, "height": 433, "layer": [
{"data": {"name": "grid"}, "mark": {"type": "arc", "filled": false, "color": "#222", "strokeWidth": 1},
 "encoding": {"x": {"field": "cx", "type": "quantitative", "axis": null, "scale": {"domain": [-4.0112, 2.8786], "nice": false, "zero": false}},
  "y": {"field": "cy", "type": "quantitative", "axis": null, "scale": {"domain": [-4.0025, 1.3631], "nice": false, "zero": false}},
  "radius": {"field": "rad", "type": "quantitative", "scale": {"type": "linear", "domain": [0, 1], "range": [0, 80.7]}},
  "radius2": {"field": "rad"},
  "theta": {"field": "t0", "type": "quantitative", "stack": null, "scale": {"domain": [0, 360], "range": [0, 6.283185307]}},
  "theta2": {"field": "t1"}}},
{"data": {"values": [{}]}, "mark": {"type": "rule", "color": "#222"}, "encoding": {"x": {"datum": -1}, "x2": {"datum": 1}, "y": {"datum": 0}}},
{"data": {"values": [{}]}, "mark": {"type": "rule", "color": "#000", "strokeWidth": 6}, "encoding": {"y": {"datum": 1.3259}}},
{"data": {"name": "trace"}, "transform": [{"filter": "datum.s == 'cR'"}], "mark": {"type": "line", "color": "#111", "strokeWidth": 1}, "encoding": {"x": {"field": "gx", "type": "quantitative"}, "y": {"field": "gy", "type": "quantitative"}, "detail": {"field": "g"}, "order": {"field": "i", "type": "quantitative"}}},
{"data": {"name": "bold"}, "transform": [{"filter": "datum.s == 'cR'"}], "mark": {"type": "line", "color": "#000", "strokeWidth": 3}, "encoding": {"x": {"field": "gx", "type": "quantitative"}, "y": {"field": "gy", "type": "quantitative"}, "order": {"field": "i", "type": "quantitative"}}},
{"data": {"name": "dots"}, "transform": [{"filter": "datum.s == 'cR'"}], "mark": {"type": "point", "filled": true, "color": "#000", "size": 30, "opacity": 1}, "encoding": {"x": {"field": "gx", "type": "quantitative"}, "y": {"field": "gy", "type": "quantitative"}}},
{"data": {"name": "mk"}, "transform": [{"filter": "datum.s == 'cR'"}], "mark": {"type": "point", "shape": "triangle-down", "filled": false, "color": "#111", "size": 70, "yOffset": -5, "strokeWidth": 1, "opacity": 1}, "encoding": {"x": {"field": "gx", "type": "quantitative"}, "y": {"field": "gy", "type": "quantitative"}}},
{"data": {"name": "mk"}, "transform": [{"filter": "datum.s == 'cR'"}], "mark": {"type": "text", "font": "DejaVu Sans Mono", "fontSize": 11, "dy": -16, "color": "#111"}, "encoding": {"x": {"field": "gx", "type": "quantitative"}, "y": {"field": "gy", "type": "quantitative"}, "text": {"field": "n"}}},
{"data": {"name": "scr"}, "transform": [{"filter": "(datum.s == '*' || datum.s == 'cR') && datum.g == 'L'"}], "mark": {"type": "text", "font": "DejaVu Sans Mono", "fontSize": 12, "align": "left", "baseline": "alphabetic", "color": "#111"}, "encoding": {"x": {"field": "gx", "type": "quantitative"}, "y": {"field": "gy", "type": "quantitative"}, "text": {"field": "t"}}},
{"data": {"name": "scr"}, "transform": [{"filter": "datum.g == 'A'"}], "mark": {"type": "text", "font": "DejaVu Sans", "fontSize": 14, "align": "left", "baseline": "alphabetic", "color": "#111"}, "encoding": {"x": {"field": "gx", "type": "quantitative"}, "y": {"field": "gy", "type": "quantitative"}, "text": {"field": "t"}}},
{"data": {"name": "scr"}, "transform": [{"filter": "(datum.s == '*' || datum.s == 'cR') && datum.g == 'R'"}], "mark": {"type": "text", "font": "DejaVu Sans Mono", "fontSize": 12, "align": "right", "baseline": "alphabetic", "color": "#111"}, "encoding": {"x": {"field": "gx", "type": "quantitative"}, "y": {"field": "gy", "type": "quantitative"}, "text": {"field": "t"}}},
{"data": {"name": "scr"}, "transform": [{"filter": "datum.g == 'BL'"}], "mark": {"type": "text", "font": "Liberation Mono", "fontSize": 10, "align": "left", "baseline": "alphabetic", "color": "#111"}, "encoding": {"x": {"field": "gx", "type": "quantitative"}, "y": {"field": "gy", "type": "quantitative"}, "text": {"field": "t"}}},
{"data": {"name": "scr"}, "transform": [{"filter": "datum.g == 'BR'"}], "mark": {"type": "text", "font": "Liberation Mono", "fontSize": 10, "align": "right", "baseline": "alphabetic", "color": "#111"}, "encoding": {"x": {"field": "gx", "type": "quantitative"}, "y": {"field": "gy", "type": "quantitative"}, "text": {"field": "t"}}},
{"data": {"name": "hdr"}, "mark": {"type": "text", "font": "Liberation Serif", "fontSize": 12.5, "align": "center", "baseline": "alphabetic", "color": "#111"}, "encoding": {"x": {"field": "gx", "type": "quantitative"}, "y": {"field": "gy", "type": "quantitative"}, "text": {"field": "t"}}},
{"data": {"name": "tab"}, "transform": [{"filter": "datum.s == 'cR'"}], "mark": {"type": "text", "font": "Liberation Mono", "fontSize": 13, "align": "center", "baseline": "alphabetic", "color": "#111"}, "encoding": {"x": {"datum": -2.46}, "y": {"field": "gy", "type": "quantitative"}, "text": {"field": "n"}}},
{"data": {"name": "tab"}, "transform": [{"filter": "datum.s == 'cR'"}], "mark": {"type": "text", "font": "Liberation Mono", "fontSize": 13, "align": "right", "baseline": "alphabetic", "color": "#111"}, "encoding": {"x": {"datum": -0.414}, "y": {"field": "gy", "type": "quantitative"}, "text": {"field": "f"}}},
{"data": {"name": "tab"}, "transform": [{"filter": "datum.s == 'cR'"}], "mark": {"type": "text", "font": "Liberation Mono", "fontSize": 13, "align": "right", "baseline": "alphabetic", "color": "#111"}, "encoding": {"x": {"datum": 0.776}, "y": {"field": "gy", "type": "quantitative"}, "text": {"field": "v"}}},
{"data": {"name": "tab"}, "transform": [{"filter": "datum.s == 'cR'"}], "mark": {"type": "text", "font": "Liberation Mono", "fontSize": 13, "align": "right", "baseline": "alphabetic", "color": "#111"}, "encoding": {"x": {"datum": 2.194}, "y": {"field": "gy", "type": "quantitative"}, "text": {"field": "a"}}},
{"data": {"name": "fig"}, "transform": [{"filter": "datum.s == 'cR' && datum.k == 'q'"}], "mark": {"type": "text", "font": "Liberation Serif", "fontSize": 26, "align": "center", "baseline": "alphabetic", "color": "#000"}, "encoding": {"x": {"field": "gx", "type": "quantitative"}, "y": {"field": "gy", "type": "quantitative"}, "text": {"field": "t"}}}
]}
]
}
